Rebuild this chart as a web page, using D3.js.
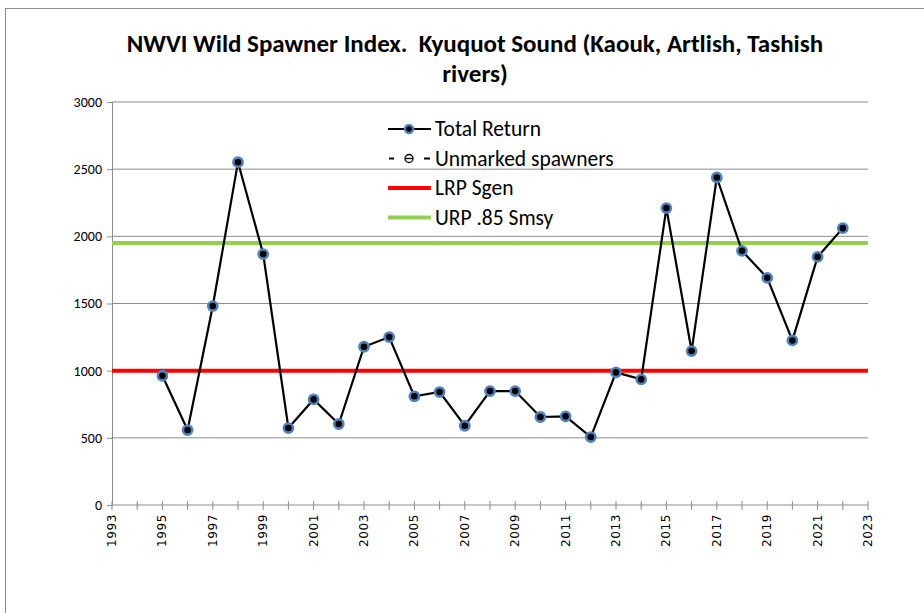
<!DOCTYPE html>
<html>
<head>
<meta charset="utf-8">
<script src="https://cdn.jsdelivr.net/npm/d3@7"></script>
<style>
  html, body { margin: 0; padding: 0; background: #fff; }
  svg { display: block; }
  text { font-family: Carlito, Lato, "Open Sans", sans-serif; }
</style>
</head>
<body>
<svg id="chart" width="924" height="613"></svg>
<script>
// Kyuquot Sound wild spawner index, total return by year
const years = [1995, 1996, 1997, 1998, 1999, 2000, 2001, 2002, 2003, 2004,
               2005, 2006, 2007, 2008, 2009, 2010, 2011, 2012, 2013, 2014,
               2015, 2016, 2017, 2018, 2019, 2020, 2021, 2022];
const totalReturn = [962, 558, 1481, 2552, 1868, 573, 786, 603, 1178, 1250,
                     809, 841, 590, 848, 848, 655, 660, 506, 987, 935,
                     2210, 1146, 2438, 1892, 1691, 1225, 1847, 2061];
// Reference points
const lrpSgen = 1000;
const urpSmsy = 1950;
const yTicks = [0, 500, 1000, 1500, 2000, 2500, 3000];
const xTicks = d3.range(1993, 2024, 2);
const xMinor = d3.range(1993, 2024, 1);
const titleLines = ["NWVI Wild Spawner Index.  Kyuquot Sound (Kaouk, Artlish, Tashish", "rivers)"];
const legendItems = ["Total Return", "Unmarked spawners", "LRP Sgen", "URP .85 Smsy"];

const svg = d3.select("#chart");
const plotLeft = 112, plotRight = 868, plotTop = 102, plotBottom = 505;

const x = d3.scaleLinear().domain([1993, 2023]).range([plotLeft, plotRight]);
const y = d3.scaleLinear().domain([0, 3000]).range([plotBottom, plotTop]);

// outer frame
svg.append("rect").attr("x", 5.5).attr("y", 8.5).attr("width", 940).attr("height", 620)
  .attr("fill", "none").attr("stroke", "#8c8c8c").attr("stroke-width", 1);

// title
svg.append("g").selectAll("text").data(titleLines).join("text")
  .attr("x", 475).attr("y", (d, i) => 52 + i * 30)
  .attr("text-anchor", "middle")
  .style("white-space", "pre")
  .attr("font-size", 25).attr("font-weight", "bold").attr("fill", "#000")
  .text(d => d);

// horizontal gridlines
svg.append("g").selectAll("line").data(yTicks.filter(d => d > 0)).join("line")
  .attr("x1", plotLeft).attr("x2", plotRight)
  .attr("y1", d => y(d)).attr("y2", d => y(d))
  .attr("stroke", "#8c8c8c").attr("stroke-width", 1);

// y axis
const yAxis = svg.append("g").attr("transform", `translate(${plotLeft},0)`)
  .call(d3.axisLeft(y).tickValues(yTicks).tickFormat(d3.format("d")).tickSize(5).tickPadding(5));
yAxis.select(".domain").attr("stroke", "#8c8c8c");
yAxis.selectAll(".tick line").attr("stroke", "#8c8c8c");
yAxis.selectAll("text").attr("font-size", 14).attr("fill", "#000")
  .style("font-family", "'Liberation Sans Narrow', Carlito, sans-serif");

// x axis: minor ticks every year, labels every two years
const xAxisG = svg.append("g").attr("transform", `translate(0,${plotBottom})`);
xAxisG.append("line").attr("x1", plotLeft).attr("x2", plotRight).attr("y1", 0).attr("y2", 0)
  .attr("stroke", "#8c8c8c");
xAxisG.selectAll("line.minor").data(xMinor).join("line").attr("class", "minor")
  .attr("x1", d => x(d)).attr("x2", d => x(d)).attr("y1", -4).attr("y2", 5)
  .attr("stroke", "#8c8c8c");
xAxisG.selectAll("text").data(xTicks).join("text")
  .attr("transform", d => `translate(${x(d) + 4},9) rotate(-90)`)
  .attr("text-anchor", "end")
  .attr("font-size", 12).attr("fill", "#000")
  .style("font-family", "'DejaVu Sans', sans-serif")
  .attr("letter-spacing", 0.6)
  .text(d => d);

// reference lines
svg.append("line").attr("x1", plotLeft).attr("x2", plotRight)
  .attr("y1", y(lrpSgen)).attr("y2", y(lrpSgen))
  .attr("stroke", "#ff0000").attr("stroke-width", 4);
svg.append("line").attr("x1", plotLeft).attr("x2", plotRight)
  .attr("y1", y(urpSmsy)).attr("y2", y(urpSmsy))
  .attr("stroke", "#92d050").attr("stroke-width", 4);

// total return series
const pts = years.map((yr, i) => [yr, totalReturn[i]]);
svg.append("path").datum(pts)
  .attr("fill", "none").attr("stroke", "#000").attr("stroke-width", 2.2)
  .attr("d", d3.line().x(d => x(d[0])).y(d => y(d[1])));
svg.append("g").selectAll("circle").data(pts).join("circle")
  .attr("cx", d => x(d[0])).attr("cy", d => y(d[1])).attr("r", 4.6)
  .attr("fill", "#000").attr("stroke", "#4f81bd").attr("stroke-width", 2.6);

// legend
const lg = svg.append("g");
const lx = 388, ly0 = 129, dy = 29.5;
legendItems.forEach((name, i) => {
  const yy = ly0 + i * dy;
  if (i === 0) {
    lg.append("line").attr("x1", lx).attr("x2", lx + 43).attr("y1", yy).attr("y2", yy)
      .attr("stroke", "#000").attr("stroke-width", 2.2);
    lg.append("circle").attr("cx", lx + 21).attr("cy", yy).attr("r", 4)
      .attr("fill", "#000").attr("stroke", "#4f81bd").attr("stroke-width", 2.4);
  } else if (i === 1) {
    lg.append("line").attr("x1", lx + 1).attr("x2", lx + 6).attr("y1", yy).attr("y2", yy)
      .attr("stroke", "#000").attr("stroke-width", 2);
    lg.append("circle").attr("cx", lx + 21).attr("cy", yy).attr("r", 4)
      .attr("fill", "none").attr("stroke", "#000").attr("stroke-width", 1.3);
    lg.append("line").attr("x1", lx + 17).attr("x2", lx + 25).attr("y1", yy).attr("y2", yy)
      .attr("stroke", "#000").attr("stroke-width", 1.3);
    lg.append("line").attr("x1", lx + 36).attr("x2", lx + 42).attr("y1", yy).attr("y2", yy)
      .attr("stroke", "#000").attr("stroke-width", 2);
  } else {
    lg.append("line").attr("x1", lx).attr("x2", lx + 43).attr("y1", yy).attr("y2", yy)
      .attr("stroke", i === 2 ? "#ff0000" : "#92d050").attr("stroke-width", 4);
  }
  lg.append("text").attr("x", lx + 47).attr("y", yy + 7)
    .attr("font-size", 21.5).attr("fill", "#000").text(name);
});
</script>
</body>
</html>
